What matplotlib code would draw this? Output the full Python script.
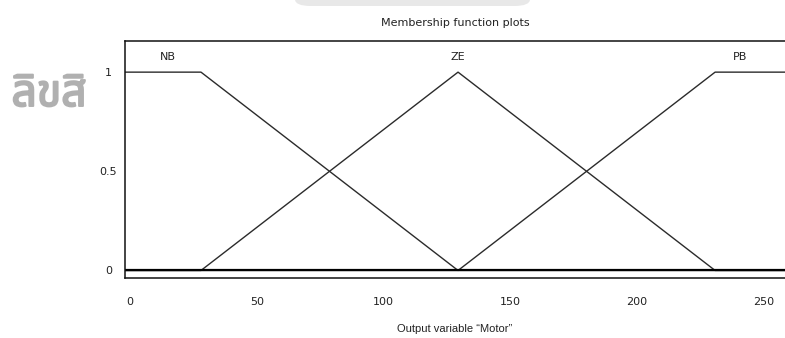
import matplotlib
matplotlib.use("Agg")
import os
import matplotlib.pyplot as plt
import matplotlib.patheffects as pe
from matplotlib import font_manager
from matplotlib.ft2font import FT2Font
from matplotlib.patches import FancyBboxPatch

# membership function break points (x, mu)
nb_x = [-2, 28, 129.5, 258.6]
nb_y = [1, 1, 0, 0]
ze_x = [-2, 28, 129.5, 231, 258.6]
ze_y = [0, 0, 1, 0, 0]
pb_x = [-2, 129.5, 231, 258.6]
pb_y = [0, 0, 1, 1]

mf_names = ["NB", "ZE", "PB"]
mf_label_x = [15, 129.5, 241]

x_ticks = [0, 50, 100, 150, 200, 250]
y_ticks = [0, 0.5, 1]
y_tick_labels = ["0", "0.5", "1"]

title = "Membership function plots"
x_label = "Output variable \u201cMotor\u201d"
watermark = "ลิขสิ"


def thai_font():
    # pick an installed font with Thai glyphs, nicer ones first
    prefer = ["notosansthai", "sarabun", "loma", "garuda", "waree", "kinnari",
              "norasi", "tlwg", "umpush", "freesans", "noto"]
    found = []
    for path in font_manager.findSystemFonts():
        try:
            if 0x0E25 in FT2Font(path).get_charmap():
                found.append(path)
        except Exception:
            continue
    if not found:
        return None

    def rank(p):
        name = os.path.basename(p).lower().replace("-", "").replace("_", "")
        for i, key in enumerate(prefer):
            if key in name:
                return (i, "bold" not in name, name)
        return (len(prefer), True, name)

    return font_manager.FontProperties(fname=sorted(found, key=rank)[0])


fig = plt.figure(figsize=(7.85, 3.38), dpi=100)
ax = fig.add_axes([125 / 785, 60 / 338, 660 / 785, 237 / 338])

line_kw = dict(color="#2b2b2b", lw=1.0)
ax.plot(nb_x, nb_y, **line_kw)
ax.plot(ze_x, ze_y, **line_kw)
ax.plot(pb_x, pb_y, **line_kw)
ax.axhline(0, color="black", lw=1.6)

for name, lx in zip(mf_names, mf_label_x):
    ax.text(lx, 1.077, name, ha="center", va="center", fontsize=8,
            family="DejaVu Sans", color="#222222")

ax.set_xlim(-2, 258.6)
ax.set_ylim(-0.038, 1.157)
ax.set_xticks(x_ticks)
ax.set_yticks(y_ticks)
ax.set_yticklabels(y_tick_labels)
ax.tick_params(length=0, labelsize=8, colors="#222222")
ax.tick_params(axis="x", pad=14)
ax.tick_params(axis="y", pad=12)
for lab in ax.get_yticklabels():
    lab.set_ha("center")

ax.spines["right"].set_visible(False)
for s in ["left", "top", "bottom"]:
    ax.spines[s].set_linewidth(1.1)
    ax.spines[s].set_color("#111111")

ax.set_title(title, fontsize=8, family="DejaVu Sans", color="#222222", pad=11)
ax.set_xlabel(x_label, fontsize=8, family="Liberation Sans", color="#222222", labelpad=12)

# watermark bits in the scan
fp = thai_font()
if fp is not None:
    fp.set_size(32)
    fig.text(49 / 785, 1 - 95 / 338, watermark, fontproperties=fp,
             ha="center", va="center", color="#b0b0b0",
             path_effects=[pe.withStroke(linewidth=1.4, foreground="#b0b0b0")])
fig.patches.append(FancyBboxPatch((295 / 785, 1 - 6 / 338), 235 / 785, 20 / 338,
                                  boxstyle="round,pad=0,rounding_size=0.02",
                                  transform=fig.transFigure, fc="#e8e8e8", ec="none"))

fig.savefig("out.png", dpi=100)
